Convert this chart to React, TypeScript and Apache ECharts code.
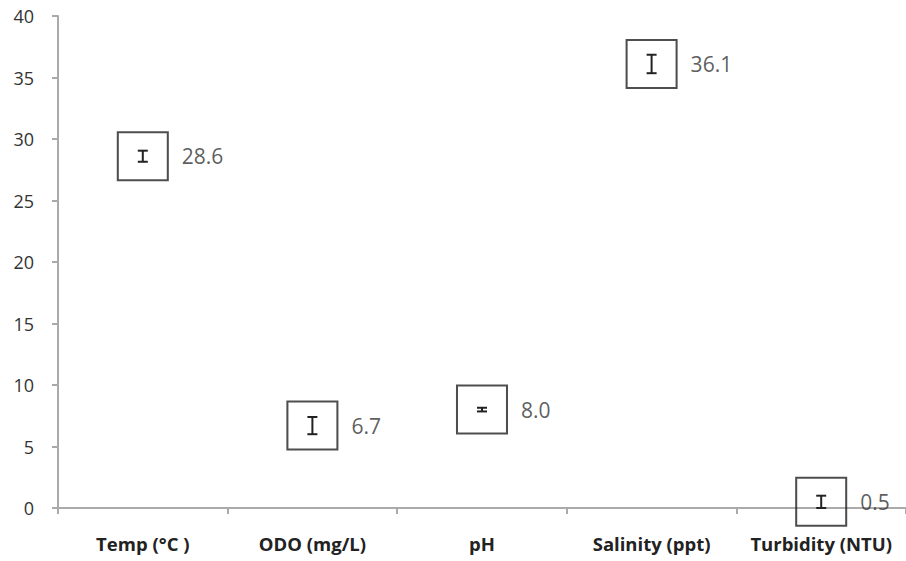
import React, { useEffect, useRef } from "react";
import * as echarts from "echarts";

const categories = ["Temp (°C )", "ODO (mg/L)", "pH", "Salinity (ppt)", "Turbidity (NTU)"];
const values = [28.6, 6.7, 8.0, 36.1, 0.5];
const errors = [0.45, 0.7, 0.15, 0.75, 0.5];
const yTicks = { min: 0, max: 40, interval: 5 };

export default function App() {
  const ref = useRef<HTMLDivElement>(null);
  useEffect(() => {
    if (!ref.current) return;
    const chart = echarts.init(ref.current, undefined, { renderer: "svg" });
    const font = "'Open Sans', 'Noto Sans', sans-serif";
    chart.setOption({
      animation: false,
      backgroundColor: "#ffffff",
      grid: { left: 58, top: 16, width: 850, height: 492, containLabel: false },
      xAxis: {
        type: "category",
        data: categories,
        boundaryGap: true,
        axisLine: { lineStyle: { color: "#aaaaaa", width: 2 } },
        axisTick: { show: true, interval: 0, length: 6, inside: false, lineStyle: { color: "#aaaaaa", width: 2 } },
        axisLabel: {
          interval: 0,
          hideOverlap: false,
          margin: 26,
          fontFamily: font,
          fontWeight: "bold",
          fontSize: 18.5,
          color: "#222222",
        },
        splitLine: { show: false },
      },
      yAxis: {
        type: "value",
        min: yTicks.min,
        max: yTicks.max,
        interval: yTicks.interval,
        axisLine: { show: true, lineStyle: { color: "#aaaaaa", width: 2 } },
        axisTick: { show: true, length: 6, lineStyle: { color: "#aaaaaa", width: 2 } },
        axisLabel: { margin: 24, fontFamily: font, fontSize: 18, color: "#333333" },
        splitLine: { show: false },
      },
      series: [
        {
          type: "scatter",
          data: values,
          symbol: "rect",
          symbolSize: [50, 48],
          itemStyle: { color: "rgba(0,0,0,0)", borderColor: "#222222", borderWidth: 2 },
          label: {
            show: true,
            position: "right",
            distance: 13,
            fontFamily: font,
            fontSize: 21,
            color: "#333333",
            formatter: (p: any) => Number(p.value).toFixed(1),
          },
          z: 3,
        },
        {
          type: "custom",
          data: values.map((v, i) => [i, v, errors[i]]),
          encode: { x: 0, y: 1 },
          z: 4,
          renderItem: (params: any, api: any) => {
            const i = api.value(0);
            const v = api.value(1);
            const e = api.value(2);
            const top = api.coord([i, v + e]);
            const bot = api.coord([i, v - e]);
            const hw = 5;
            const style = { stroke: "#222222", lineWidth: 2 };
            return {
              type: "group",
              children: [
                { type: "line", shape: { x1: top[0], y1: top[1], x2: bot[0], y2: bot[1] }, style },
                { type: "line", shape: { x1: top[0] - hw, y1: top[1], x2: top[0] + hw, y2: top[1] }, style },
                { type: "line", shape: { x1: bot[0] - hw, y1: bot[1], x2: bot[0] + hw, y2: bot[1] }, style },
              ],
            };
          },
        },
      ],
    });
    return () => chart.dispose();
  }, []);
  return <div ref={ref} style={{ position: "absolute", left: 0, top: 0, width: 906, height: 561 }} />;
}
